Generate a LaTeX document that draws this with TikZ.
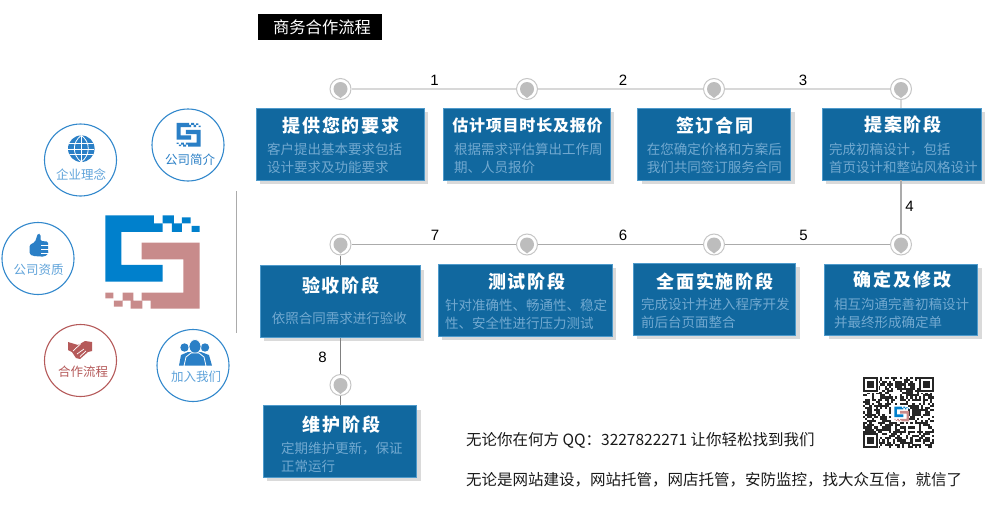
\documentclass[tikz,border=0pt]{standalone}
\usepackage{fontspec}
\usetikzlibrary{shadows,calc}
\setmainfont{Noto Sans CJK SC}
\newfontfamily\ttlfont[LetterSpace=11]{Noto Sans CJK SC}
\newfontfamily\ttlnarrow[LetterSpace=5]{Noto Sans CJK SC}
\newfontfamily\numfont{Liberation Sans}
\definecolor{boxblue}{HTML}{11689F}
\definecolor{boxedge}{HTML}{4E9ACB}
\definecolor{bodyblue}{HTML}{72A9D0}
\definecolor{shadowgray}{HTML}{DADADA}
\definecolor{linelight}{HTML}{D8D8D8}
\definecolor{linemid}{HTML}{ABABAB}
\definecolor{linedark}{HTML}{808080}
\definecolor{ringgray}{HTML}{C6C6C6}
\definecolor{pingray}{HTML}{BDBDBD}
\definecolor{ringbluecol}{HTML}{3288CC}
\definecolor{ringredcol}{HTML}{B55A5A}
\definecolor{iconblue}{HTML}{2A7FC6}
\definecolor{labelblue}{HTML}{5FA3DA}
\definecolor{logoblue}{HTML}{0080CC}
\definecolor{logopink}{HTML}{C88B8B}
\newcommand\logomark[2]{%
  \fill[#1] (46,46)--(192,46)--(192,70)--(218,70)--(218,96)--(94,96)--(94,195)--(218,195)--(218,245)--(46,245)--cycle;
  \fill[#1] (218,46) rectangle (252,70) (246,70) rectangle (276,96) (276,52) rectangle (302,70) (305,78) rectangle (329,96);
  \fill[#2] (155,128)--(329,128)--(329,326)--(182,326)--(182,302)--(155,302)--(155,278)--(280,278)--(280,178)--(155,178)--cycle;
  \fill[#2] (46,278) rectangle (70,295) (98,278) rectangle (130,302) (72,302) rectangle (98,320) (122,302) rectangle (157,326);
}
\tikzset{
  stepbox/.style={rectangle,draw=boxedge,line width=0.8pt,fill=boxblue,inner sep=0pt,
    general shadow={fill=shadowgray,shadow xshift=4pt,shadow yshift=-4pt}},
  steptitle/.style={text=white,inner sep=0pt,font=\ttlfont\bfseries\fontsize{18}{18}\selectfont},
  narrowtitle/.style={text=white,inner sep=0pt,font=\ttlnarrow\bfseries\fontsize{16}{16}\selectfont},
  stepbody/.style={text=bodyblue,anchor=west,inner sep=0pt,font=\fontsize{13.5}{18}\selectfont,align=left},
  waypoint/.style={circle,draw=ringgray,line width=1pt,fill=white,minimum size=21pt,inner sep=0pt,
    path picture={
      \fill[pingray] (path picture bounding box.center) circle (7pt);
      \fill[pingray] ($(path picture bounding box.center)+(-5pt,-5pt)$) -- ($(path picture bounding box.center)+(0pt,-9pt)$) -- ($(path picture bounding box.center)+(5pt,-5pt)$) -- cycle;
    }},
  linklight/.style={draw=linelight,line width=1.3pt},
  linkmid/.style={draw=linemid,line width=1.3pt},
  linkdark/.style={draw=linedark,line width=1.3pt},
  numlabel/.style={inner sep=0pt,font=\numfont\fontsize{15}{15}\selectfont},
  menuring/.style={circle,draw=ringbluecol,line width=1.1pt,minimum size=72pt,inner sep=0pt,fill=white},
  menuringred/.style={circle,draw=ringredcol,line width=1.1pt,minimum size=72pt,inner sep=0pt,fill=white},
  ringlabel/.style={inner sep=0pt,text=labelblue,font=\fontsize{12.5}{13}\selectfont},
  bottomtext/.style={anchor=west,inner sep=0pt,text=black!90,font=\fontsize{15.5}{16}\selectfont},
}
\begin{document}
\begin{tikzpicture}[x=1pt,y=-1pt]
\useasboundingbox (0,0) rectangle (999,522);
% heading
\node[fill=black,minimum width=124.5pt,minimum height=26pt,inner sep=0pt] (head) at (320.2,27) {};
\node[text=white,inner sep=0pt,font=\fontsize{16.3}{17}\selectfont] (headtext) at (322,27) {商务合作流程};
% waypoints
\foreach \n/\x/\y in {n1/340.5/89,n2/527/89,n3/714/89,n4/901/89,n5/901/244.5,n6/714/244.5,n7/527/244.5,n8/340.5/244.5,n9/340.5/385}
  \node[waypoint] (\n) at (\x,\y) {};
% boxes
\node[stepbox,minimum width=168.5pt,minimum height=72.5pt] (b1) at (340.2,144.2) {};
\node[stepbox,minimum width=167pt,minimum height=72pt] (b2) at (526.5,144) {};
\node[stepbox,minimum width=153pt,minimum height=72pt] (b3) at (714,144) {};
\node[stepbox,minimum width=159pt,minimum height=72pt] (b4) at (901.5,144) {};
\node[stepbox,minimum width=153pt,minimum height=71pt] (b5) at (901.2,299.5) {};
\node[stepbox,minimum width=162.5pt,minimum height=72pt] (b6) at (714.3,299) {};
\node[stepbox,minimum width=174pt,minimum height=72pt] (b7) at (525,300) {};
\node[stepbox,minimum width=160pt,minimum height=71.5pt] (b8) at (340,301.5) {};
\node[stepbox,minimum width=153.5pt,minimum height=71.5pt] (b9) at (340,441.3) {};
% connectors
\draw[linklight] (n1)--(n2);
\draw[linklight] (n2)--(n3);
\draw[linklight] (n3)--(n4);
\draw[linklight] (n4)--(n4|-b4.north);
\draw[linkmid] (n4|-b4.south)--(n5);
\draw[linkmid] (n5)--(n6);
\draw[linkmid] (n6)--(n7);
\draw[linkmid] (n7)--(n8);
\draw[linkdark] (n8)--(n8|-b8.north);
\draw[linkdark] (n8|-b8.south)--(n9);
\draw[linkdark] (n9)--(n9|-b9.north);
% numbers
\node[numlabel] (l1) at (434.5,80.5) {1};
\node[numlabel] (l2) at (623,80.5) {2};
\node[numlabel] (l3) at (803,80.5) {3};
\node[numlabel] (l4) at (909.5,206) {4};
\node[numlabel] (l5) at (803.5,235.5) {5};
\node[numlabel] (l6) at (623,235.5) {6};
\node[numlabel] (l7) at (435,235.5) {7};
\node[numlabel] (l8) at (322.5,357) {8};
% titles
\node[steptitle] (t1) at (341,126) {提供您的要求};
\node[narrowtitle] (t2) at (527.5,125.5) {估计项目时长及报价};
\node[steptitle] (t3) at (715,125.5) {签订合同};
\node[steptitle] (t4) at (903,124.5) {提案阶段};
\node[steptitle] (t5) at (902.5,280) {确定及修改};
\node[steptitle] (t6) at (715,281.5) {全面实施阶段};
\node[steptitle] (t7) at (527,281.5) {测试阶段};
\node[steptitle] (t8) at (341,285.5) {验收阶段};
\node[steptitle] (t9) at (341.5,425) {维护阶段};
% body text
\node[stepbody] (d1) at (267,158) {客户提出基本要求包括\\设计要求及功能要求};
\node[stepbody] (d2) at (454,158) {根据需求评估算出工作周\\期、人员报价};
\node[stepbody] (d3) at (646.7,158.5) {在您确定价格和方案后\\我们共同签订服务合同};
\node[stepbody] (d4) at (829,158.5) {完成初稿设计，包括\\首页设计和整站风格设计};
\node[stepbody] (d5) at (834,313.5) {相互沟通完善初稿设计\\并最终形成确定单};
\node[stepbody] (d6) at (641,313) {完成设计并进入程序开发\\前后台页面整合};
\node[stepbody] (d7) at (445,314) {针对准确性、畅通性、稳定\\性、安全性进行压力测试};
\node[stepbody] (d8) at (271.7,318) {依照合同需求进行验收};
\node[stepbody] (d9) at (281,457) {定期维护更新，保证\\正常运行};
% bottom text
\node[bottomtext] (q1) at (466,440) {无论你在何方 QQ：3227822271 让你轻松找到我们};
\node[bottomtext] (q2) at (466,480) {无论是网站建设，网站托管，网店托管，安防监控，找大众互信，就信了};
% left ring menu
\node[menuring] (c1) at (80.5,160) {};
\node[menuring] (c2) at (188,145) {};
\node[menuring] (c3) at (38,258.5) {};
\node[menuringred] (c4) at (80.5,360.5) {};
\node[menuring] (c5) at (193,365.5) {};
\node[ringlabel] (c1t) at (81,174.5) {企业理念};
\node[ringlabel,text=iconblue] (c2t) at (190,159.5) {公司简介};
\node[ringlabel] (c3t) at (38.5,270) {公司资质};
\node[ringlabel,text=ringredcol] (c4t) at (83,372) {合作流程};
\node[ringlabel] (c5t) at (196,376.5) {加入我们};
% globe icon
\begin{scope}
  \fill[iconblue] (81.3,148.7) circle (13.3pt);
  \clip (81.3,148.7) circle (13.3pt);
  \draw[white,line width=0.8pt] (68,143.5)--(95,143.5) (68,149)--(95,149) (68,154.5)--(95,154.5) (81.3,135)--(81.3,162);
  \draw[white,line width=0.8pt] (81.3,135.4) .. controls (72,142) and (72,155) .. (81.3,162);
  \draw[white,line width=0.8pt] (81.3,135.4) .. controls (90.6,142) and (90.6,155) .. (81.3,162);
\end{scope}
% small logo icon
\begin{scope}[shift={(172.7,118.9)},scale=0.085]
  \logomark{iconblue}{iconblue}
\end{scope}
% thumb icon
\fill[iconblue,rounded corners=1.5pt] (29.5,245)--(35,242)--(37,236)--(38,233.3)--(40.5,234)--(40.5,241)--(48,241.5)--(48.3,254)--(44,256.7)--(33,256)--(29.5,254)--cycle;
\draw[white,line width=0.5pt] (41,245)--(48.5,245) (41,249)--(48.5,249) (41,253)--(48.5,253);
% handshake icon
\fill[ringredcol] (68,342)--(78,345)--(85,341)--(92,342)--(92,351)--(88,352)--(80,359)--(76,358)--(72,352)--(68,350)--cycle;
\draw[white,line width=0.7pt] (73,351)--(81,343.5) (77,354)--(84,349) (80,356.5)--(86,351);
% people icon
\fill[iconblue] (184.5,347.5) circle (4.2pt) (205,347.5) circle (4.2pt);
\fill[iconblue] (179,365.7)--(181,355)--(188,352)--(201,352)--(209,355)--(212,365.7)--cycle;
\draw[white,line width=0.8pt,fill=iconblue] (195,346.5) ellipse (6pt and 7pt);
\draw[white,line width=0.8pt,fill=iconblue] (184,365.9)--(186,357)--(191,353)--(199,353)--(204,357)--(206,365.9)--cycle;
% divider
\draw[linemid,line width=0.8pt] (236.5,191)--(236.5,333);
% main logo
\begin{scope}[shift={(90,200)},scale=0.3333]
  \logomark{logoblue}{logopink}
\end{scope}
% QR code
\pgfmathsetseed{4242}
\begin{scope}[shift={(863,377)},scale=2.15]
  \foreach \i in {0,...,32}{\foreach \j in {0,...,32}{
    \pgfmathrandominteger{\qrbit}{0}{99}
    \ifnum\qrbit<52 \fill[black!85] (\i,\j) rectangle +(1.02,1.02);\fi
  }}
  \foreach \a/\b in {0/0,26/0,0/26}{
    \fill[white] (\a-0.01,\b-0.01) rectangle +(7.6,7.6);
    \fill[black!85] (\a,\b) rectangle +(7,7);
    \fill[white] (\a+1,\b+1) rectangle +(5,5);
    \fill[black!85] (\a+2,\b+2) rectangle +(3,3);
  }
  \fill[white] (13,13) rectangle +(8,8);
\end{scope}
\begin{scope}[shift={(892,404.3)},scale=0.052]
  \logomark{logoblue}{logopink}
\end{scope}
\end{tikzpicture}
\end{document}
